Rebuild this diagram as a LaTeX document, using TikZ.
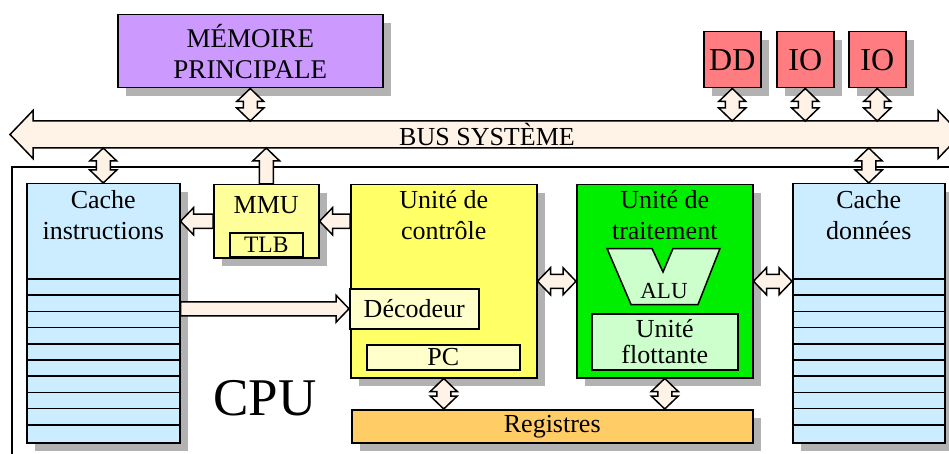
\documentclass[tikz,border=0pt]{standalone}
\usepackage{fontspec}
\setmainfont{Liberation Serif}
\usetikzlibrary{calc,positioning,shadows}

\definecolor{memcol}{HTML}{CC99FF}
\definecolor{iocol}{HTML}{FF7C80}
\definecolor{cachecol}{HTML}{CCECFF}
\definecolor{mmucol}{HTML}{FFFF99}
\definecolor{ctrlcol}{HTML}{FFFF66}
\definecolor{declight}{HTML}{FFFFCC}
\definecolor{proccol}{HTML}{00EE00}
\definecolor{flotcol}{HTML}{CCFFCC}
\definecolor{regcol}{HTML}{FFCC66}
\definecolor{arrowcol}{HTML}{FFF3E8}
\definecolor{shadowcol}{HTML}{B2B2B2}

\tikzset{
	unit/.style={draw=black, line width=1.5pt, inner sep=0pt, anchor=north west,
		drop shadow={shadow xshift=8pt, shadow yshift=-8pt, fill=shadowcol, opacity=1}},
	inner/.style={draw=black, line width=1.5pt, inner sep=0pt, anchor=north west},
	fat/.style={draw=black, fill=arrowcol, line width=1.5pt, line join=miter},
	lbl/.style={font=\fontsize{26}{31}\selectfont, align=center, inner sep=0pt},
}

% tailles des grosses fleches
\newcommand{\ahl}{13pt}
\newcommand{\ahw}{13.5pt}
\newcommand{\asw}{7pt}

% fleche double de #1 a #2
\newcommand{\fatdbl}[2]{%
	\draw[fat] (#1)
		-- ($($(#1)!\ahl!(#2)$)!\ahw!90:(#2)$)
		-- ($($(#1)!\ahl!(#2)$)!\asw!90:(#2)$)
		-- ($($(#2)!\ahl!(#1)$)!\asw!-90:(#1)$)
		-- ($($(#2)!\ahl!(#1)$)!\ahw!-90:(#1)$)
		-- (#2)
		-- ($($(#2)!\ahl!(#1)$)!\ahw!90:(#1)$)
		-- ($($(#2)!\ahl!(#1)$)!\asw!90:(#1)$)
		-- ($($(#1)!\ahl!(#2)$)!\asw!-90:(#2)$)
		-- ($($(#1)!\ahl!(#2)$)!\ahw!-90:(#2)$)
		-- cycle;}

% fleche simple de #1 vers #2
\newcommand{\fatone}[2]{%
	\draw[fat] ($(#1)!\asw!90:(#2)$)
		-- ($($(#2)!\ahl!(#1)$)!\asw!-90:(#1)$)
		-- ($($(#2)!\ahl!(#1)$)!\ahw!-90:(#1)$)
		-- (#2)
		-- ($($(#2)!\ahl!(#1)$)!\ahw!90:(#1)$)
		-- ($($(#2)!\ahl!(#1)$)!\asw!90:(#1)$)
		-- ($(#1)!\asw!-90:(#2)$)
		-- cycle;}

\begin{document}
\begin{tikzpicture}[x=1pt,y=-1pt]
	\path[use as bounding box] (0,0) rectangle (949,454);
	\clip (0,0) rectangle (949,454);

	% bus systeme
	\coordinate (busl) at (10,134.5);
	\coordinate (busr) at (961,134.5);
	\coordinate (bustop) at (0,121);
	\coordinate (busbot) at (0,148);
	{\renewcommand{\ahl}{23pt}\renewcommand{\ahw}{24pt}\renewcommand{\asw}{13.5pt}
	\fatdbl{busl}{busr}}
	\node[lbl] (bus-txt) at (487,134.5) {BUS SYSTÈME};

	% cadre du CPU
	\draw[line width=1.5pt] (12,470) -- (12,167) -- (970,167);
	\node[font=\fontsize{53}{60}\selectfont, inner sep=0pt, anchor=base] (cpu) at (265,415) {CPU};

	% memoire et peripheriques
	\node[unit, fill=memcol, minimum width=265pt, minimum height=73pt, lbl, font=\fontsize{27}{31}\selectfont] (mem) at (117,14) {MÉMOIRE\\PRINCIPALE};
	\node[unit, fill=iocol, minimum width=57pt, minimum height=56pt, font=\fontsize{32}{38}\selectfont] (dd) at (703,31) {DD};
	\node[unit, fill=iocol, minimum width=57pt, minimum height=56pt, font=\fontsize{32}{38}\selectfont] (io1) at (776,31) {IO};
	\node[unit, fill=iocol, minimum width=57pt, minimum height=56pt, font=\fontsize{32}{38}\selectfont] (io2) at (848,31) {IO};

	% caches
	\node[unit, fill=cachecol, minimum width=153pt, minimum height=259pt] (cachei) at (26,183) {};
	\node[lbl, below=7pt of cachei.north] (cachei-txt) {Cache\\instructions};
	\node[unit, fill=cachecol, minimum width=152pt, minimum height=259pt] (cached) at (792,183) {};
	\node[lbl, below=7pt of cached.north] (cached-txt) {Cache\\données};
	\foreach \k in {0,...,9}{
		\draw[line width=1.5pt] ($(cachei.north west)+(0,96+16.2*\k)$) -- ($(cachei.north east)+(0,96+16.2*\k)$);
		\draw[line width=1.5pt] ($(cached.north west)+(0,96+16.2*\k)$) -- ($(cached.north east)+(0,96+16.2*\k)$);
	}

	% MMU
	\node[unit, fill=mmucol, minimum width=105pt, minimum height=73pt] (mmu) at (213,184) {};
	\node[lbl, below=12pt of mmu.north] (mmu-txt) {MMU};
	\node[inner, fill=mmucol, minimum width=73pt, minimum height=24pt, font=\fontsize{23.5}{28}\selectfont] (tlb) at (229,232) {TLB};

	% unite de controle
	\node[unit, fill=ctrlcol, minimum width=186pt, minimum height=193pt] (ctrl) at (350,184) {};
	\node[lbl, below=6pt of ctrl.north] (ctrl-txt) {Unité de\\contrôle};
	\node[inner, fill=declight, minimum width=129pt, minimum height=40pt, lbl] (dec) at (349,288) {Décodeur};
	\node[inner, fill=declight, minimum width=153pt, minimum height=25pt, lbl] (pc) at (366,344) {PC};

	% unite de traitement
	\node[unit, fill=proccol, minimum width=176pt, minimum height=193pt] (proc) at (576,184) {};
	\node[lbl, below=6pt of proc.north] (proc-txt) {Unité de\\traitement};
	\draw[line width=1.5pt, fill=flotcol, line join=miter] (607,248.5) -- (652,248.5) -- (663,272) -- (673,248.5)
		-- (720,248.5) -- (698,304.5) -- (631,304.5) -- cycle;
	\node[font=\fontsize{23}{28}\selectfont, inner sep=0pt] (alu) at (664,291.5) {ALU};
	\node[inner, fill=flotcol, minimum width=146pt, minimum height=56pt, lbl, font=\fontsize{26}{26.5}\selectfont] (flot) at (591,313) {Unité\\flottante};

	% registres
	\node[unit, fill=regcol, minimum width=401pt, minimum height=33pt, lbl] (reg) at (351,409) {Registres};

	% liaisons
	\fatdbl{mem.south}{mem.south |- bustop}
	\fatdbl{dd.south}{dd.south |- bustop}
	\fatdbl{io1.south}{io1.south |- bustop}
	\fatdbl{io2.south}{io2.south |- bustop}
	\fatdbl{cachei.north |- busbot}{cachei.north}
	\fatdbl{cached.north |- busbot}{cached.north}
	\fatone{mmu.north}{mmu.north |- busbot}
	\fatone{mmu.east -| ctrl.west}{mmu.east}
	\fatone{mmu.west}{mmu.west -| cachei.east}
	\fatone{dec.west -| cachei.east}{dec.west}
	\fatdbl{ctrl.east}{proc.west}
	\fatdbl{proc.east}{proc.east -| cached.west}
	\fatdbl{ctrl.south}{ctrl.south |- reg.north}
	\fatdbl{proc.south}{proc.south |- reg.north}
\end{tikzpicture}
\end{document}
